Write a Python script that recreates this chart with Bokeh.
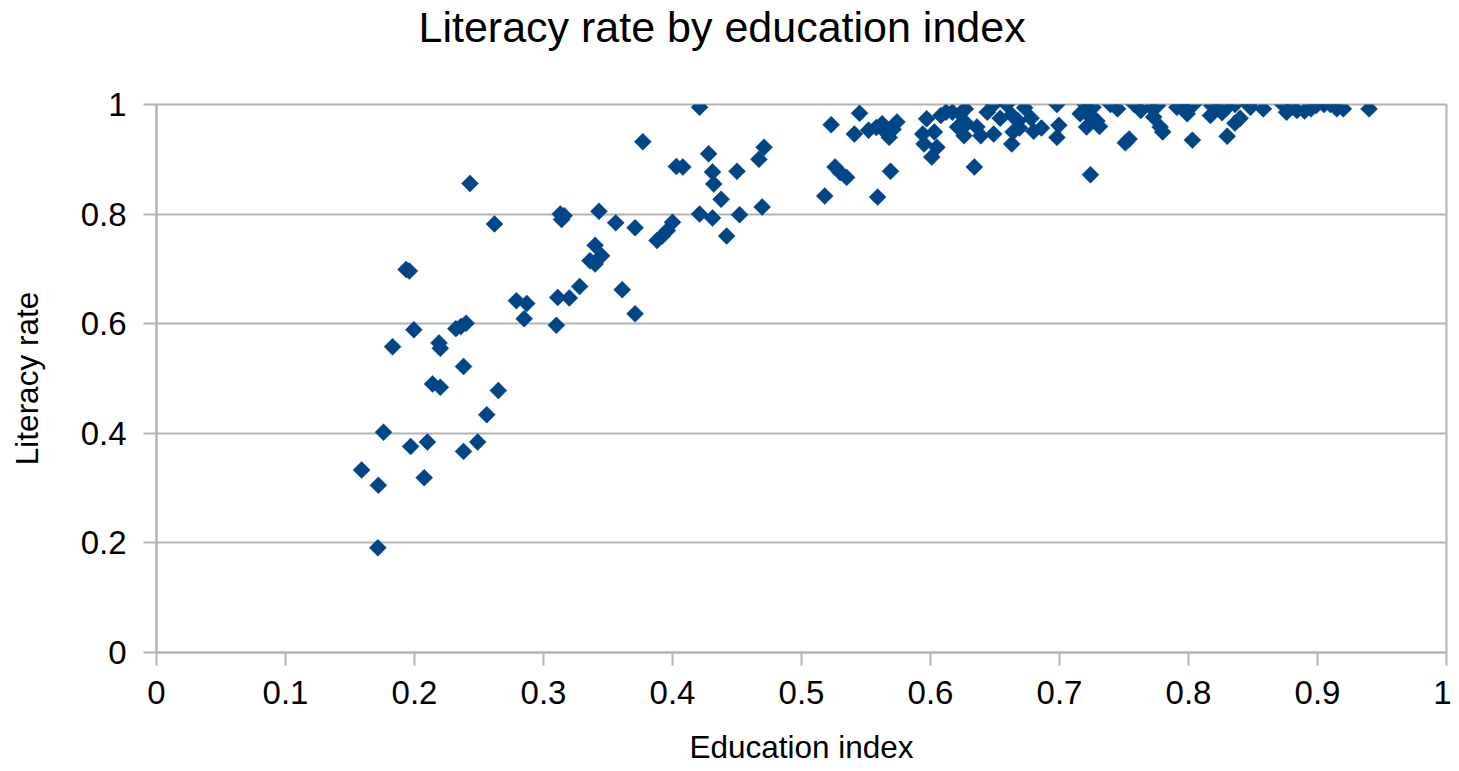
from bokeh.plotting import figure
from bokeh.models import Range1d, FixedTicker, CustomJSTickFormatter
from bokeh.embed import file_html
from bokeh.resources import INLINE
import math

# Education index (x) and literacy rate (y)
education_index = [
    0.159, 0.172, 0.1716, 0.176, 0.183, 0.1935, 0.196, 0.197, 0.1995, 0.2075,
    0.210, 0.214, 0.220, 0.219, 0.220, 0.232, 0.236, 0.240, 0.238, 0.238,
    0.249, 0.256, 0.265, 0.243, 0.262, 0.279, 0.287, 0.285,
    0.310, 0.311, 0.320, 0.328, 0.313, 0.316, 0.314, 0.336, 0.340, 0.345,
    0.340, 0.343, 0.356, 0.361, 0.371, 0.371, 0.377, 0.388, 0.396, 0.400,
    0.403, 0.408, 0.421, 0.421, 0.428, 0.431, 0.432, 0.431, 0.4377, 0.442,
    0.450, 0.452, 0.467, 0.471, 0.4695, 0.392,
    0.518, 0.523, 0.526, 0.530, 0.535, 0.545, 0.541, 0.552, 0.5625, 0.559,
    0.568, 0.574, 0.569, 0.565, 0.571, 0.558,
    0.597, 0.594, 0.595, 0.601, 0.605, 0.603, 0.608, 0.612, 0.617, 0.623,
    0.627, 0.621, 0.628, 0.636, 0.626, 0.639, 0.649, 0.634, 0.644, 0.649,
    0.659, 0.654, 0.663, 0.668, 0.673, 0.678, 0.680, 0.686, 0.663, 0.669,
    0.664,
    0.698, 0.6995, 0.698, 0.719, 0.724, 0.729, 0.721, 0.716, 0.726, 0.724,
    0.7395, 0.745, 0.754, 0.751, 0.731, 0.720,
    0.758, 0.763, 0.771, 0.776, 0.773, 0.778, 0.780, 0.791, 0.794, 0.804,
    0.799, 0.803, 0.797,
    0.818, 0.822, 0.817, 0.830, 0.836, 0.836, 0.847, 0.848, 0.830, 0.858,
    0.873, 0.876, 0.884, 0.895, 0.899, 0.905, 0.910, 0.915, 0.920, 0.940,
    0.826, 0.880, 0.890, 0.840,
]
literacy_rate = [
    0.333, 0.305, 0.191, 0.402, 0.558, 0.699, 0.696, 0.376, 0.589, 0.319,
    0.384, 0.490, 0.484, 0.565, 0.555, 0.591, 0.595, 0.601, 0.522, 0.367,
    0.384, 0.434, 0.478, 0.856, 0.782, 0.642, 0.637, 0.609,
    0.597, 0.648, 0.647, 0.668, 0.800, 0.797, 0.790, 0.715, 0.743, 0.724,
    0.709, 0.805, 0.784, 0.662, 0.775, 0.618, 0.932, 0.752, 0.770, 0.785,
    0.887, 0.886, 0.995, 0.800, 0.910, 0.877, 0.855, 0.793, 0.827, 0.760,
    0.878, 0.799, 0.900, 0.922, 0.813, 0.760,
    0.833, 0.963, 0.886, 0.876, 0.867, 0.984, 0.946, 0.953, 0.965, 0.831,
    0.940, 0.968, 0.878, 0.950, 0.955, 0.958,
    0.974, 0.946, 0.928, 0.904, 0.922, 0.950, 0.980, 0.986, 0.986, 0.983,
    0.992, 0.959, 0.965, 0.959, 0.943, 0.943, 0.946, 0.886, 0.986, 1.000,
    1.000, 0.975, 0.981, 0.970, 0.994, 0.975, 0.951, 0.957, 0.928, 0.957,
    0.950,
    1.000, 0.962, 0.940, 0.989, 0.977, 0.970, 0.959, 0.983, 0.995, 0.872,
    1.000, 0.992, 0.937, 0.930, 0.960, 1.000,
    1.000, 0.989, 0.995, 0.998, 0.977, 0.959, 0.950, 0.995, 1.000, 1.000,
    0.983, 0.935, 0.992,
    0.998, 0.992, 0.980, 0.995, 1.000, 0.966, 1.000, 0.995, 0.942, 0.992,
    1.000, 0.986, 0.989, 0.992, 0.998, 1.000, 1.000, 0.992, 0.992, 0.992,
    0.985, 0.995, 0.988, 0.975,
]

x_ticks = [0, 0.1, 0.2, 0.3, 0.4, 0.5, 0.6, 0.7, 0.8, 0.9, 1]
y_ticks = [0, 0.2, 0.4, 0.6, 0.8, 1]

title_text = "Literacy rate by education index"
x_label = "Education index"
y_label = "Literacy rate"

FONT = "Liberation Sans"
GRAY = "#b3b3b3"
BLUE = "#004586"

p = figure(
    output_backend="svg", toolbar_location=None,
    frame_width=1290, frame_height=548,
    min_border_left=156, min_border_right=5,
    min_border_top=104, min_border_bottom=111,
    x_range=Range1d(0, 1), y_range=Range1d(0, 1),
    title=title_text,
)
p.title.text_font = FONT
p.title.text_font_size = "43px"
p.title.text_font_style = "normal"
p.title.text_color = "#000000"
p.title.align = "left"
p.title.offset = 262
p.title.vertical_align = "bottom"
p.title.standoff = 0
p.title.padding = (0, 0, 0, 54)   # (left, right, top, bottom): lifts the title

p.scatter(education_index, literacy_rate, marker="square", size=12,
          angle=math.pi / 4, fill_color=BLUE, line_color=BLUE, line_width=0.5)

fmt = CustomJSTickFormatter(code="return Number(tick.toFixed(1)).toString();")

for ax, ticks, lab in ((p.xaxis[0], x_ticks, x_label), (p.yaxis[0], y_ticks, y_label)):
    ax.ticker = FixedTicker(ticks=ticks)
    ax.formatter = fmt
    ax.minor_tick_line_color = None
    ax.major_tick_in = 0
    ax.major_tick_out = 13
    ax.major_tick_line_color = GRAY
    ax.major_tick_line_width = 2
    ax.axis_line_color = GRAY
    ax.axis_line_width = 2
    ax.major_label_text_font = FONT
    ax.major_label_text_font_size = "33px"
    ax.major_label_text_color = "#000000"
    ax.axis_label = lab
    ax.axis_label_text_font = FONT
    ax.axis_label_text_font_size = "31.5px"
    ax.axis_label_text_font_style = "normal"
    ax.axis_label_text_color = "#000000"

p.xaxis.major_label_standoff = 15
p.xaxis.axis_label_standoff = 22
p.yaxis.major_label_standoff = 17
p.yaxis.axis_label_standoff = 33

p.xgrid.grid_line_color = None
p.ygrid.ticker = FixedTicker(ticks=y_ticks)
p.ygrid.grid_line_color = GRAY
p.ygrid.grid_line_width = 2

p.outline_line_color = GRAY
p.outline_line_width = 2
p.background_fill_color = "white"
p.border_fill_color = "white"

open("out.html", "w").write(file_html(p, INLINE))
